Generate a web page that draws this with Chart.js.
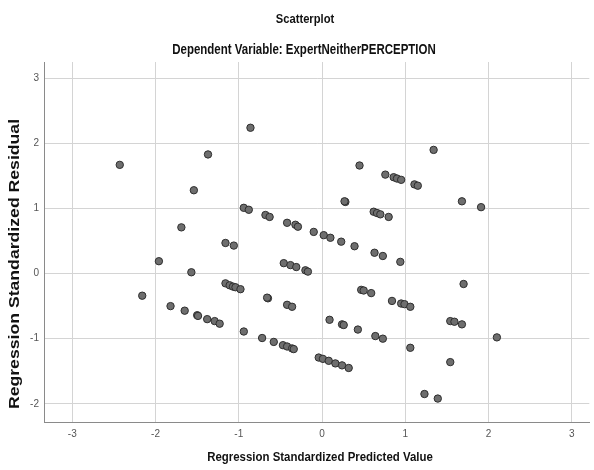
<!DOCTYPE html>
<html>
<head>
<meta charset="utf-8">
<title>Scatterplot</title>
<script src="https://cdn.jsdelivr.net/npm/chart.js@4/dist/chart.umd.min.js"></script>
<style>
  html, body { margin: 0; padding: 0; background: #fff; }
  #wrap { position: relative; width: 594px; height: 470px; }
</style>
</head>
<body>
<div id="wrap"><canvas id="chart"></canvas></div>
<script>
(function() {
  'use strict';

  // values
  var predicted = [
    -2.43, -0.86, -1.37, -1.54, -0.94, -0.88, -0.68, -0.63, -0.42, -0.32,
    -0.29, -0.10, 0.02, 0.10, 0.23, 0.39, 0.63, 0.73, 0.94, -1.69,
    -1.16, -1.06, -1.96, -1.57, -0.46, -0.38, -0.31, -0.20, -0.17, 1.34,
    0.45, 0.76, 0.86, 0.90, 0.95, 1.11, 1.15, 0.28, 0.27, 1.68,
    1.91, 0.62, 0.66, 0.70, 0.80, 1.70, 0.47, 0.50, 0.59, 0.84,
    0.95, 0.99, 1.06, 0.09, 0.24, 0.26, 0.43, 1.54, 1.59, 1.68,
    0.64, 0.73, 2.10, 1.06, -0.04, 0.01, 0.08, 0.16, 0.24, 0.32,
    1.54, 1.23, 1.39, -1.16, -1.11, -1.07, -1.04, -0.98, -2.16, -0.65,
    -0.66, -0.42, -0.36, -1.82, -1.65, -1.50, -1.49, -1.38, -1.29, -1.23,
    -0.94, -0.72, -0.58, -0.47, -0.42, -0.36, -0.34
  ];
  var residual = [
    1.67, 2.24, 1.83, 1.28, 1.01, 0.98, 0.90, 0.87, 0.78, 0.75,
    0.72, 0.64, 0.59, 0.55, 0.49, 0.42, 0.32, 0.27, 0.18, 0.71,
    0.47, 0.43, 0.19, 0.02, 0.16, 0.13, 0.10, 0.05, 0.03, 1.90,
    1.66, 1.52, 1.48, 1.46, 1.44, 1.37, 1.35, 1.10, 1.11, 1.11,
    1.02, 0.95, 0.93, 0.91, 0.87, -0.16, -0.25, -0.26, -0.30, -0.42,
    -0.46, -0.47, -0.51, -0.71, -0.78, -0.79, -0.86, -0.73, -0.74, -0.78,
    -0.96, -1.00, -0.98, -1.14, -1.29, -1.31, -1.34, -1.38, -1.41, -1.45,
    -1.36, -1.85, -1.92, -0.15, -0.18, -0.20, -0.21, -0.24, -0.34, -0.38,
    -0.37, -0.48, -0.51, -0.50, -0.57, -0.64, -0.65, -0.70, -0.73, -0.77,
    -0.89, -0.99, -1.05, -1.10, -1.12, -1.15, -1.16
  ];
  var xTicks = [-3, -2, -1, 0, 1, 2, 3];
  var yTicks = [-2, -1, 0, 1, 2, 3];

  var titleText = 'Scatterplot';
  var subtitleText = 'Dependent Variable: ExpertNeitherPERCEPTION';
  var xTitle = 'Regression Standardized Predicted Value';
  var yTitle = 'Regression Standardized Residual';

  var sans = "'Liberation Sans', Arial, sans-serif";

  var points = predicted.map(function(x, i) { return { x: x, y: residual[i] }; });

  /** Draw text squeezed/stretched along its run (the SPSS export uses a narrow face) */
  function drawText(ctx, text, x, y, font, sx, rotate) {
    ctx.save();
    ctx.translate(x, y);
    if (rotate) ctx.rotate(-Math.PI / 2);
    ctx.scale(sx, 1);
    ctx.font = font;
    ctx.fillText(text, 0, 0);
    ctx.restore();
  }

  // Titles drawn by hand so the plot area stays where the reference has it
  var textPlugin = {
    id: 'spssText',
    afterDraw: function(chart) {
      var ctx = chart.ctx;
      ctx.save();
      ctx.fillStyle = '#111';
      ctx.textAlign = 'center';
      ctx.textBaseline = 'middle';
      drawText(ctx, titleText, 305, 19, 'bold 13px ' + sans, 0.86);
      drawText(ctx, subtitleText, 304, 50, 'bold 14px ' + sans, 0.82);
      drawText(ctx, xTitle, 320, 457, 'bold 13px ' + sans, 0.88);
      drawText(ctx, yTitle, 15, 264, 'bold 14px ' + sans, 1.26, true);
      ctx.restore();
    }
  };

  function fixedTicks(list) {
    return function(scale) {
      scale.ticks = list.map(function(v) { return { value: v }; });
    };
  }

  new Chart(document.getElementById('chart'), {
    type: 'scatter',
    plugins: [textPlugin],
    data: {
      datasets: [{
        data: points,
        pointRadius: 3.7,
        pointHoverRadius: 3.7,
        pointBackgroundColor: '#6e6e6e',
        pointBorderColor: '#2e2e2e',
        pointBorderWidth: 1
      }]
    },
    options: {
      responsive: true,
      maintainAspectRatio: false,
      animation: false,
      layout: { padding: { top: 62, left: 0, right: 0, bottom: 0 } },
      plugins: {
        legend: { display: false },
        tooltip: { enabled: false }
      },
      scales: {
        x: {
          type: 'linear',
          min: -3.34,
          max: 3.21,
          afterBuildTicks: fixedTicks(xTicks),
          afterFit: function(scale) { scale.height = 48; scale.paddingLeft = 0; scale.paddingRight = 0; },
          ticks: { color: '#555', font: { family: sans, size: 10 }, padding: 6, maxRotation: 0 },
          grid: { color: '#d4d4d4', lineWidth: 1, drawTicks: false },
          border: { color: '#8a8a8a', width: 1 }
        },
        y: {
          type: 'linear',
          min: -2.28,
          max: 3.25,
          afterBuildTicks: fixedTicks(yTicks),
          afterFit: function(scale) { scale.width = 44; },
          ticks: { color: '#555', font: { family: sans, size: 10 }, padding: 5 },
          grid: { color: '#d4d4d4', lineWidth: 1, drawTicks: false },
          border: { color: '#8a8a8a', width: 1 }
        }
      }
    }
  });
})();
</script>
</body>
</html>
